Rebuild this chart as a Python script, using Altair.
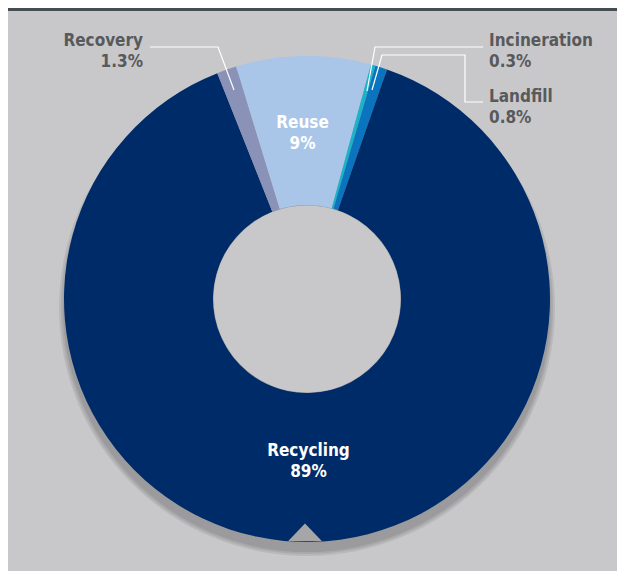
import math
import altair as alt
import pandas as pd

# ---- data ----
categories = ["Reuse", "Incineration", "Landfill", "Recycling", "Recovery"]
shares = [9, 0.3, 0.8, 89, 1.3]
pct_labels = ["9%", "0.3%", "0.8%", "89%", "1.3%"]
colors = ["#a9c6e9", "#1bb3c9", "#0a74be", "#002b69", "#8a92b8"]
inside = [True, False, False, True, False]

df = pd.DataFrame({
    "category": categories,
    "share": shares,
    "pct": pct_labels,
    "ord": list(range(len(categories))),
    "inner": [f"{c}\n{p}" if i else "" for c, p, i in zip(categories, pct_labels, inside)],
})

W, H = 609, 563
CX, CY = 299, 291
R_OUT, R_IN = 243, 94
start = math.radians(-17)
FONT = "DejaVu Sans Condensed"
GREY_TXT = "#58595b"
BG = "#c8c8cb"
FS = 17

theta = alt.Theta("share:Q", stack=True,
                  scale=alt.Scale(range=[start, start + 2 * math.pi]))
order = alt.Order("ord:Q")

panel = alt.Chart(df).mark_rect(color=BG).encode(
    x=alt.value(0), x2=alt.value(W), y=alt.value(0), y2=alt.value(H))
topbar = alt.Chart(df).mark_rect(color="#454c52").encode(
    x=alt.value(0), x2=alt.value(W), y=alt.value(0), y2=alt.value(3))

# soft drop shadow under the ring (mostly visible below it)
shadow_layers = []
for extra in [5, 3, 1]:
    d = 2 * (R_OUT + extra)
    shadow_layers.append(
        alt.Chart(df.iloc[[0]]).mark_point(
            shape="circle", filled=True, color="#000000", opacity=0.08, size=d * d,
        ).encode(x=alt.value(CX), y=alt.value(CY + 9))
    )

arcs = alt.Chart(df).mark_arc(outerRadius=R_OUT, innerRadius=R_IN).encode(
    theta=theta, order=order,
    color=alt.Color("category:N", scale=alt.Scale(domain=categories, range=colors), legend=None),
    x=alt.value(CX), y=alt.value(CY),
)

# hole shows the panel colour again
hole = alt.Chart(df.iloc[[0]]).mark_point(
    shape="circle", filled=True, color=BG, opacity=1, size=(2 * R_IN - 1) ** 2,
).encode(x=alt.value(CX), y=alt.value(CY))

inner_text = alt.Chart(df).mark_text(
    radius=164, font=FONT, fontWeight="bold", fontSize=FS, color="white",
    lineBreak="\n", lineHeight=21, baseline="middle", dy=-12, dx=-2,
).encode(theta=theta, order=order, text="inner:N", x=alt.value(CX), y=alt.value(CY))

# notch at the bottom of the ring
notch = alt.Chart(df.iloc[[0]]).mark_point(
    shape="M-1,0.55L0,-0.5L1,0.55Z", filled=True, opacity=1, color="#a6a6a9", size=1156,
).encode(x=alt.value(297), y=alt.value(524))

# outer annotations
ann = pd.DataFrame({
    "t": ["Recovery\n1.3%", "Incineration\n0.3%", "Landfill\n0.8%"],
    "x": [135, 481, 481],
    "y": [38, 38, 94],
})
ann_right = alt.Chart(ann.iloc[[0]]).mark_text(
    font=FONT, fontWeight="bold", fontSize=FS, color=GREY_TXT, align="right",
    baseline="alphabetic", lineBreak="\n", lineHeight=21,
).encode(x=alt.X("x:Q", scale=None), y=alt.Y("y:Q", scale=None), text="t:N")
ann_left = alt.Chart(ann.iloc[[1, 2]]).mark_text(
    font=FONT, fontWeight="bold", fontSize=FS, color=GREY_TXT, align="left",
    baseline="alphabetic", lineBreak="\n", lineHeight=21,
).encode(x=alt.X("x:Q", scale=None), y=alt.Y("y:Q", scale=None), text="t:N")

leaders = pd.DataFrame({
    "g": ["rec"] * 3 + ["inc"] * 3 + ["lan"] * 5,
    "i": [0, 1, 2, 0, 1, 2, 0, 1, 2, 3, 4],
    "x": [142, 210, 226, 475, 367, 359, 475, 457, 457, 374, 364],
    "y": [39, 39, 82, 39, 39, 83, 94, 94, 47, 47, 82],
})
lines = alt.Chart(leaders).mark_line(color="white", strokeWidth=1.2).encode(
    x=alt.X("x:Q", scale=None), y=alt.Y("y:Q", scale=None),
    detail="g:N", order="i:Q",
)

chart = alt.layer(panel, topbar, *shadow_layers, arcs, hole, notch, inner_text, lines,
                  ann_right, ann_left).properties(
    width=W, height=H, background="white",
    autosize=alt.AutoSizeParams(type="none"), padding=0,
).configure_view(stroke=None)

chart.save("out.html", embed_options={"renderer": "svg", "actions": False})
